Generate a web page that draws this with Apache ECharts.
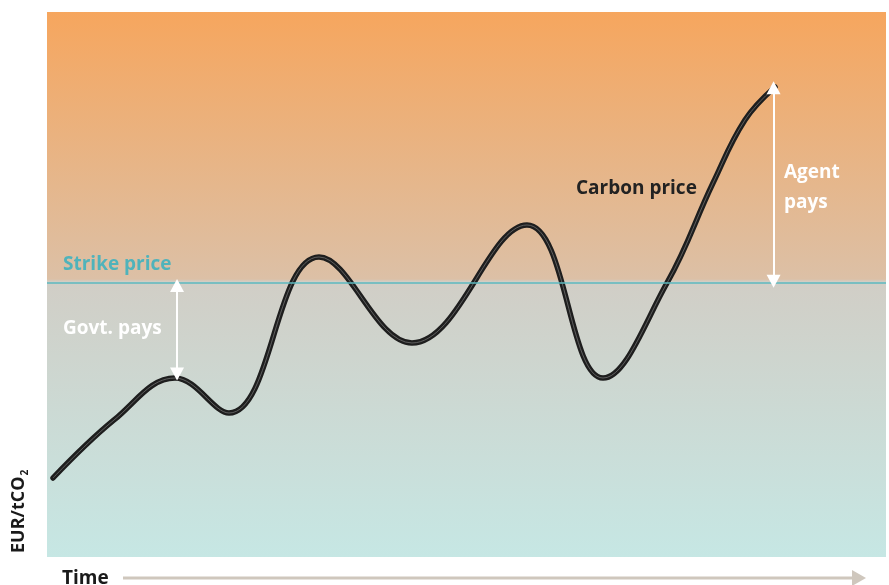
<!DOCTYPE html>
<html><head><meta charset="utf-8">
<script src="https://cdn.jsdelivr.net/npm/echarts@6/dist/echarts.min.js"></script>
<style>html,body{margin:0;padding:0;background:#fff}#c{width:889px;height:585px}</style>
</head><body><div id="c"></div>
<script>
// Time (0-100) and carbon price (0-100, arbitrary units):
// start, turning points and a few points on the final climb
const timeVals = [0.72,7.99,15.26,21.69,32.42,43.50,57.21,66.27,73.90,79.38,83.19,86.77];
const priceVals = [14.50,25.14,32.84,26.42,55.05,39.27,60.92,32.84,50.28,68.62,80.18,86.24];
const strikePrice = [50.3];
const govtArrow = [[15.5, 49.8],[15.5, 33.6]];
const agentArrow = [[86.6, 86.1],[86.6, 50.6]];

const pts = timeVals.map((t,i)=>[t, priceVals[i]]);
const chart = echarts.init(document.getElementById('c'));
const font = '"Open Sans", Lato, sans-serif';
const SM = 0.4;
chart.setOption({
  animation:false,
  grid:{left:47, right:3, top:12, bottom:28, show:true, borderWidth:0,
    backgroundColor:new echarts.graphic.LinearGradient(0,0,0,1,[
      {offset:0,color:'#F6A65E'},
      {offset:0.49,color:'#DCC0A6'},
      {offset:0.495,color:'#D1CEC6'},
      {offset:1,color:'#C6E7E4'}])},
  xAxis:{type:'value', min:0, max:100, show:false},
  yAxis:{type:'value', min:0, max:100, show:false},
  series:[
    {type:'line', data:pts, smooth:SM, symbol:'none', lineStyle:{color:'#1E1E1E', width:5.5, cap:'round'}, z:3,
      markLine:{silent:true, symbol:'none', label:{show:false},
        lineStyle:{color:'#5BB9BF', width:1.5, type:'solid'},
        data:[{yAxis:strikePrice[0]}]}},
    {type:'line', data:pts, smooth:SM, symbol:'none', lineStyle:{color:'#707070', width:0.8}, z:4},
    {type:'line', data:[], markLine:{silent:true, symbol:['triangle','triangle'], symbolSize:[14,13], label:{show:false},
      lineStyle:{color:'#FFFFFF', width:2, type:'solid'},
      data:[
        [{coord:govtArrow[0]},{coord:govtArrow[1]}],
        [{coord:agentArrow[0]},{coord:agentArrow[1]}]
      ]}}
  ],
  graphic:[
    {type:'text', left:63, top:255, style:{text:'Strike price', fill:'#4FB3BB', font:'bold 19px '+font}},
    {type:'text', left:63, top:319, style:{text:'Govt. pays', fill:'#FFFFFF', font:'bold 19px '+font}},
    {type:'text', left:576, top:179, style:{text:'Carbon price', fill:'#222222', font:'bold 19px '+font}},
    {type:'text', left:784, top:158, style:{text:'Agent\npays', fill:'#FFFFFF', font:'bold 19px '+font, lineHeight:30}},
    {type:'text', left:62, top:569, style:{text:'Time', fill:'#1A1A1A', font:'bold 19px '+font}},
    {type:'line', shape:{x1:123, y1:578, x2:856, y2:578}, style:{stroke:'#CFC7BD', lineWidth:3}},
    {type:'polygon', shape:{points:[[852,570],[866,578],[852,586]]}, style:{fill:'#CFC7BD'}},
    {type:'text', x:8, y:553, rotation:Math.PI/2, style:{
      rich:{a:{font:'bold 18px '+font, fill:'#1A1A1A'}, s:{font:'bold 10px '+font, fill:'#1A1A1A', padding:[12,0,0,1]}},
      text:'{a|EUR/tCO}{s|2}', align:'left', verticalAlign:'top'}}
  ]
});
</script></body></html>
